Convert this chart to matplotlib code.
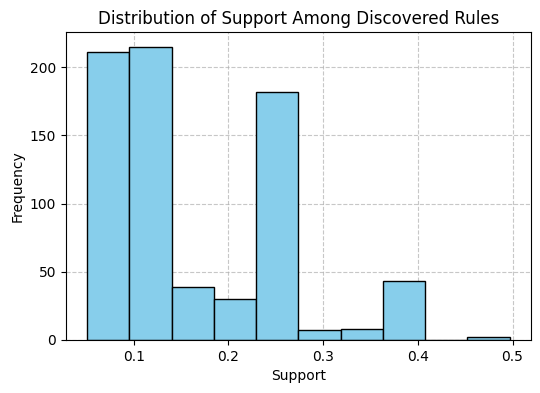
import matplotlib.pyplot as plt
import numpy as np

# histogram of rule support values (10 bins)
bin_start = 0.0507
bin_end = 0.497
counts = [211, 215, 39, 30, 182, 7, 8, 43, 0, 2]

edges = np.linspace(bin_start, bin_end, len(counts) + 1)
centers = (edges[:-1] + edges[1:]) / 2

fig = plt.figure(figsize=(5.4, 3.93), dpi=100)
ax = fig.add_axes([0.122, 0.135, 0.861, 0.783])
ax.hist(centers, bins=edges, weights=counts, color='skyblue', edgecolor='black')
ax.set_title('Distribution of Support Among Discovered Rules')
ax.set_xlabel('Support')
ax.set_ylabel('Frequency')
ax.grid(True, linestyle='--', alpha=0.7)
ax.set_axisbelow(True)

fig.savefig('out.png', dpi=100)
